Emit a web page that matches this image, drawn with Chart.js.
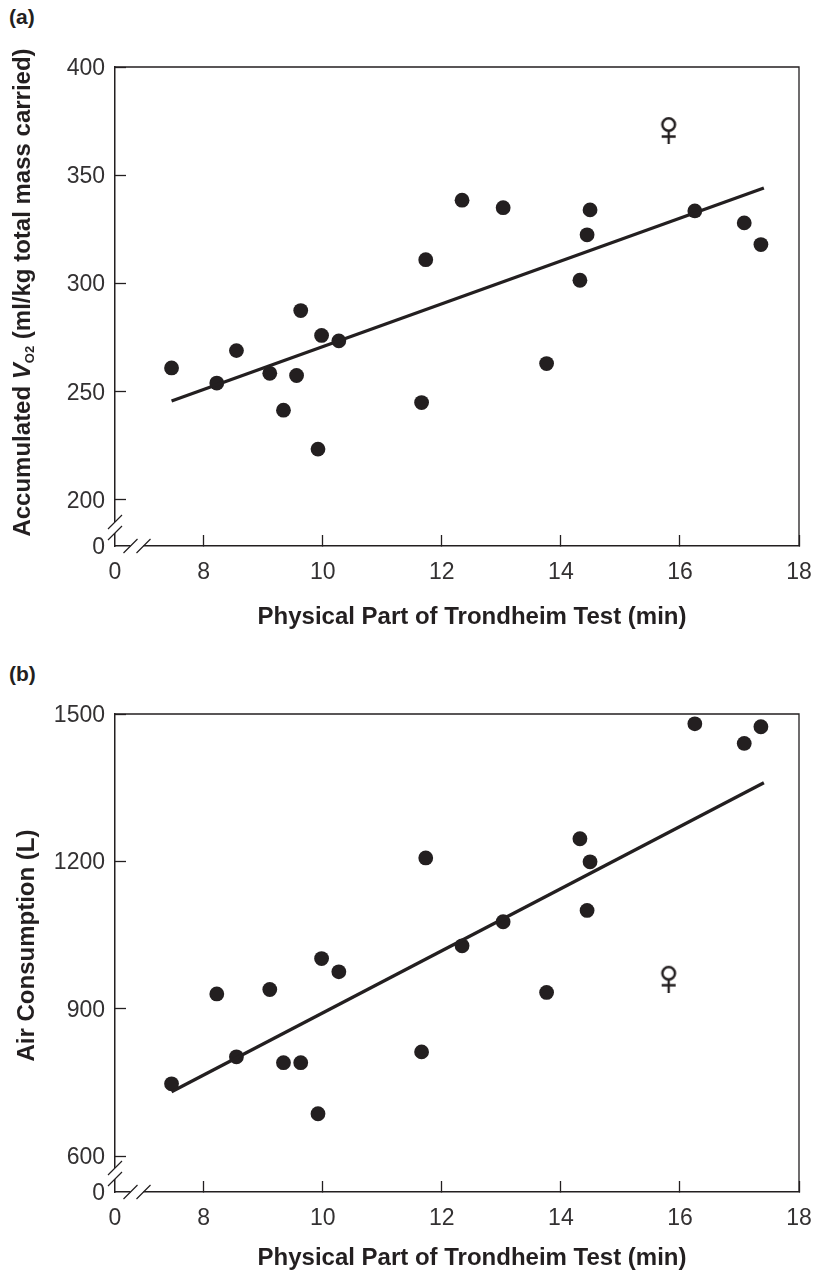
<!DOCTYPE html>
<html>
<head>
<meta charset="utf-8">
<title>Trondheim Test</title>
<script src="https://cdn.jsdelivr.net/npm/chart.js@4"></script>
<style>
  html, body { margin: 0; padding: 0; background: #fff; }
  body { position: relative; width: 817px; height: 1271px; overflow: hidden; }
  canvas { position: absolute; left: 0; }
  .panel-label { position: absolute; left: 9px; font: bold 21px "Liberation Sans", Arial, sans-serif; color: #231f20; }
</style>
</head>
<body>
<div class="panel-label" style="top:5px">(a)</div>
<canvas id="chartA" width="817" height="640" style="top:0"></canvas>
<div class="panel-label" style="top:662px">(b)</div>
<canvas id="chartB" width="817" height="621" style="top:650px"></canvas>
<script>
// values
const xTicks = [8, 10, 12, 14, 16, 18];
const xFloor = 6.51;
const yTicksA = [200, 250, 300, 350, 400];
const yFloorA = 178.75;
const yTicksB = [600, 900, 1200, 1500];
const yFloorB = 526.7;

const minutesA = [7.46, 8.22, 8.55, 9.11, 9.34, 9.56, 9.63, 9.92, 9.98, 10.27, 11.66, 11.73, 12.34, 13.03, 13.76, 14.32, 14.44, 14.49, 16.25, 17.08, 17.36];
const vo2Values = [261, 254, 269, 258.5, 241.5, 257.5, 287.5, 223.5, 276, 273.5, 245, 311, 338.5, 335, 263, 301.5, 322.5, 334, 333.5, 328, 318];

const minutesB = [7.46, 8.22, 8.55, 9.11, 9.34, 9.63, 9.92, 9.98, 10.27, 11.66, 11.73, 12.34, 13.03, 13.76, 14.32, 14.44, 14.49, 16.25, 17.08, 17.36];
const airValues = [747, 930, 802, 939, 790, 790, 686, 1002, 975, 812, 1207, 1028, 1077, 933, 1246, 1100, 1199, 1480, 1440, 1474];

const femaleA = [{ x: 15.81, y: 370.9 }];
const femaleB = [{ x: 15.81, y: 961 }];

const fitX = [7.46, 17.41];
const fitA = [245.7, 344.1];
const fitB = [731, 1360];

const INK = '#231f20';
const TICK_TEXT = '#333132';
const FONT = '"Liberation Sans", Arial, sans-serif';

function makeFemaleSymbol() {
    const c = document.createElement('canvas');
    c.width = 20;
    c.height = 28;
    const g = c.getContext('2d');
    g.strokeStyle = INK;
    g.lineWidth = 2.5;
    g.beginPath();
    g.arc(10, 8.5, 6.3, 0, Math.PI * 2);
    g.stroke();
    g.lineWidth = 2.3;
    g.beginPath();
    g.moveTo(10, 15);
    g.lineTo(10, 28);
    g.moveTo(3, 20.5);
    g.lineTo(17, 20.5);
    g.stroke();
    return c;
}

// box top/right, axis breaks, axis titles (x title sits off the plot centre, y title has the italic V and subscript)
const framePlugin = {
    id: 'frame',
    afterDraw(chart) {
        const { ctx, chartArea: a } = chart;
        const o = chart.options.plugins.frame;
        ctx.save();
        ctx.strokeStyle = INK;
        ctx.lineWidth = 1.3;
        ctx.beginPath();
        ctx.moveTo(a.left, a.top);
        ctx.lineTo(a.right, a.top);
        ctx.lineTo(a.right, a.bottom);
        ctx.stroke();

        // white out the axis between the slashes
        ctx.strokeStyle = '#fff';
        ctx.lineWidth = 3;
        ctx.beginPath();
        ctx.moveTo(a.left, a.bottom - 24);
        ctx.lineTo(a.left, a.bottom - 13);
        ctx.moveTo(a.left + 15.5, a.bottom);
        ctx.lineTo(a.left + 28.5, a.bottom);
        ctx.stroke();

        ctx.strokeStyle = INK;
        ctx.lineWidth = 1.2;
        ctx.beginPath();
        [-24, -13].forEach((dy) => {
            ctx.moveTo(a.left - 7, a.bottom + dy + 7);
            ctx.lineTo(a.left + 7, a.bottom + dy - 7);
        });
        [15.5, 28.5].forEach((dx) => {
            ctx.moveTo(a.left + dx - 7, a.bottom + 7);
            ctx.lineTo(a.left + dx + 7, a.bottom - 7);
        });
        ctx.stroke();

        ctx.fillStyle = INK;
        ctx.textBaseline = 'alphabetic';
        ctx.textAlign = 'center';
        ctx.font = bold;
        ctx.fillText('Physical Part of Trondheim Test (min)', 472, o.xTitleY);

        const parts = o.title;
        ctx.textAlign = 'left';
        let total = 0;
        parts.forEach((p) => {
            ctx.font = p.font;
            total += ctx.measureText(p.text).width;
        });
        ctx.translate(o.titleX, o.titleY);
        ctx.rotate(-Math.PI / 2);
        let pos = -total / 2;
        parts.forEach((p) => {
            ctx.font = p.font;
            ctx.fillText(p.text, pos, p.drop || 0);
            pos += ctx.measureText(p.text).width;
        });
        ctx.restore();
    }
};

function buildPanel(id, cfg) {
    const bottom = cfg.height - cfg.plotBottom;
    new Chart(document.getElementById(id), {
        type: 'scatter',
        plugins: [framePlugin],
        data: {
            datasets: [
                {
                    data: cfg.points,
                    backgroundColor: INK,
                    borderWidth: 0,
                    pointRadius: 7.4,
                    order: 2
                },
                {
                    type: 'line',
                    data: fitX.map((x, i) => ({ x: x, y: cfg.fit[i] })),
                    borderColor: INK,
                    borderWidth: 3.3,
                    pointRadius: 0,
                    tension: 0,
                    order: 1
                },
                {
                    data: cfg.female,
                    pointStyle: makeFemaleSymbol(),
                    order: 0
                }
            ]
        },
        options: {
            responsive: false,
            animation: false,
            layout: { padding: { top: cfg.plotTop, right: 18, left: 0, bottom: 0 } },
            plugins: {
                legend: { display: false },
                tooltip: { enabled: false },
                frame: { title: cfg.title, titleX: cfg.titleX, titleY: cfg.titleY, xTitleY: cfg.xTitleY }
            },
            scales: {
                x: {
                    type: 'linear',
                    min: xFloor,
                    max: 18,
                    afterFit: (s) => { s.height = bottom; s.paddingLeft = 0; s.paddingRight = 0; },
                    afterBuildTicks: (s) => { s.ticks = [xFloor].concat(xTicks).map((v) => ({ value: v })); },
                    border: { color: INK, width: 1.5 },
                    grid: {
                        drawOnChartArea: false,
                        tickLength: -11,
                        tickWidth: 1.3,
                        tickColor: (c) => (c.tick.value === xFloor ? 'rgba(0,0,0,0)' : INK)
                    },
                    ticks: {
                        autoSkip: false,
                        maxRotation: 0,
                        padding: 24,
                        color: TICK_TEXT,
                        font: { family: FONT, size: 23 },
                        callback: (v) => (v === xFloor ? '0' : v)
                    }
                },
                y: {
                    type: 'linear',
                    min: cfg.yFloor,
                    max: cfg.yTicks[cfg.yTicks.length - 1],
                    afterFit: (s) => { s.width = 115; s.paddingTop = 0; s.paddingBottom = 0; },
                    afterBuildTicks: (s) => { s.ticks = [cfg.yFloor].concat(cfg.yTicks).map((v) => ({ value: v })); },
                    border: { color: INK, width: 1.5 },
                    grid: {
                        drawOnChartArea: false,
                        tickLength: -11,
                        tickWidth: 1.3,
                        tickColor: (c) => (c.tick.value === cfg.yFloor ? 'rgba(0,0,0,0)' : INK)
                    },
                    ticks: {
                        autoSkip: false,
                        padding: 21,
                        labelOffset: 1.5,
                        color: TICK_TEXT,
                        font: { family: FONT, size: 23 },
                        callback: (v) => (v === cfg.yFloor ? '0' : v)
                    }
                }
            }
        }
    });
}

const bold = 'bold 24px ' + FONT;

buildPanel('chartA', {
    height: 640,
    plotTop: 67,
    plotBottom: 546,
    xTitleY: 624,
    yFloor: yFloorA,
    yTicks: yTicksA,
    points: minutesA.map((x, i) => ({ x: x, y: vo2Values[i] })),
    fit: fitA,
    female: femaleA,
    titleX: 30,
    titleY: 292.5,
    title: [
        { text: 'Accumulated ', font: bold },
        { text: 'V', font: 'italic ' + bold },
        { text: 'O2', font: 'bold 13px ' + FONT, drop: 4 },
        { text: ' (ml/kg total mass carried)', font: bold }
    ]
});

buildPanel('chartB', {
    height: 621,
    plotTop: 64,
    plotBottom: 542,
    xTitleY: 615,
    yFloor: yFloorB,
    yTicks: yTicksB,
    points: minutesB.map((x, i) => ({ x: x, y: airValues[i] })),
    fit: fitB,
    female: femaleB,
    titleX: 34,
    titleY: 295.5,
    title: [{ text: 'Air Consumption (L)', font: bold }]
});
</script>
</body>
</html>
